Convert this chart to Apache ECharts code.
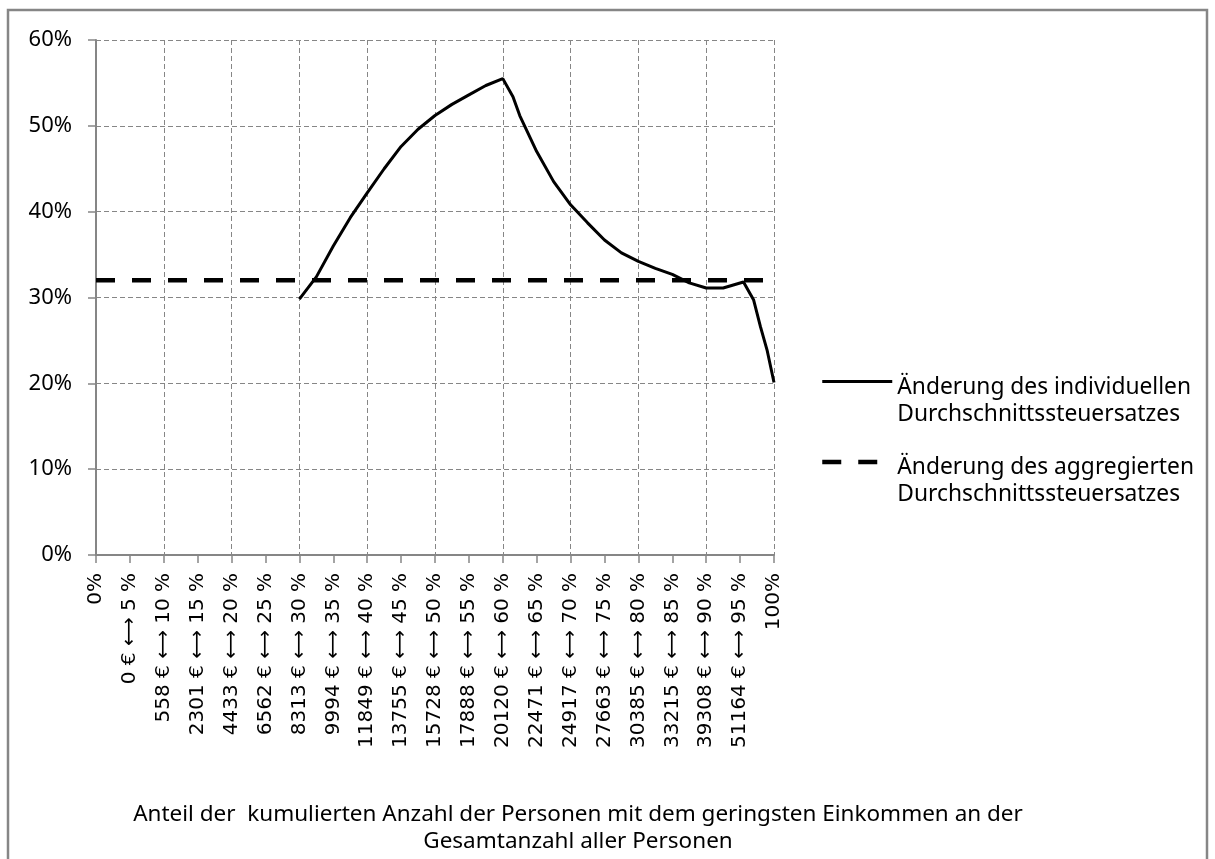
<!DOCTYPE html>
<html>
<head>
<meta charset="utf-8">
<title>Änderung des Durchschnittssteuersatzes</title>
<script src="https://cdn.jsdelivr.net/npm/echarts@6/dist/echarts.min.js"></script>
<style>
    html, body { margin: 0; padding: 0; background: #fff; }
    #chart { width: 1215px; height: 859px; }
</style>
</head>
<body>
<div id="chart"></div>
<script>
// Achsenbeschriftung (alle 5 %)
const tickLabels = [
    '0%', '0 € ⟷ 5 %', '558 € ⟷ 10 %', '2301 € ⟷ 15 %', '4433 € ⟷ 20 %',
    '6562 € ⟷ 25 %', '8313 € ⟷ 30 %', '9994 € ⟷ 35 %', '11849 € ⟷ 40 %',
    '13755 € ⟷ 45 %', '15728 € ⟷ 50 %', '17888 € ⟷ 55 %', '20120 € ⟷ 60 %',
    '22471 € ⟷ 65 %', '24917 € ⟷ 70 %', '27663 € ⟷ 75 %', '30385 € ⟷ 80 %',
    '33215 € ⟷ 85 %', '39308 € ⟷ 90 %', '51164 € ⟷ 95 %', '100%'
];

// individueller Durchschnittssteuersatz (Änderung in %)
const xPct = [30, 32.5, 35, 37.5, 40, 42.5, 45, 47.5, 50, 52.5, 55, 57.5, 60,
    61.5, 62.5, 65, 67.5, 70, 72.5, 75, 77.5, 80, 82.5, 85, 87.5, 90, 92.5,
    95.5, 97, 98, 99, 100];
const individual = [29.8, 32.4, 36.0, 39.3, 42.2, 45.0, 47.6, 49.6, 51.2, 52.5, 53.6, 54.7, 55.5,
    53.4, 51.2, 47.0, 43.5, 40.8, 38.7, 36.7, 35.2, 34.2, 33.4, 32.7, 31.7, 31.1, 31.1,
    31.8, 29.7, 26.6, 23.8, 20.1];

// aggregierter Durchschnittssteuersatz
const aggX = [0, 100];
const aggregated = [32, 32];

const seriesNames = [
    'Änderung des individuellen\nDurchschnittssteuersatzes',
    'Änderung des aggregierten\nDurchschnittssteuersatzes'
];

const FONT = '"Noto Sans", "DejaVu Sans", sans-serif';
const TICK_FONT = '"DejaVu Sans", "Noto Sans", sans-serif';
const GRAY = '#868686';

const chart = echarts.init(document.getElementById('chart'));

chart.setOption({
    backgroundColor: '#fff',
    animation: false,
    textStyle: { fontFamily: FONT, color: '#000' },
    grid: { left: 96, right: 441, top: 40, bottom: 304 },
    legend: {
        orient: 'vertical',
        left: 820,
        top: 349.5,
        padding: 0,
        itemWidth: 70,
        itemHeight: 14,
        itemGap: 4,
        itemStyle: { opacity: 0 },
        // leere erste Zeile, damit das Symbol auf Höhe der ersten Textzeile steht
        formatter: name => '{pad| }\n' + name.split('\n').map(s => '{t|' + s + '}').join('\n'),
        textStyle: {
            fontFamily: FONT,
            fontSize: 22.8,
            color: '#000',
            rich: {
                pad: { fontSize: 10, lineHeight: 39 },
                t: { fontFamily: FONT, fontSize: 22.8, lineHeight: 27, color: '#000' }
            }
        },
        data: [
            { name: seriesNames[0], lineStyle: { width: 3 } },
            { name: seriesNames[1], lineStyle: { width: 4.5 } }
        ]
    },
    xAxis: {
        type: 'value',
        min: 0,
        max: 100,
        interval: 5,
        axisLine: { lineStyle: { color: GRAY, width: 2 } },
        axisTick: { show: true, length: 8, lineStyle: { color: GRAY, width: 1.5 } },
        axisLabel: {
            rotate: 90,
            margin: 18,
            fontFamily: TICK_FONT,
            fontSize: 20,
            color: '#000',
            formatter: v => tickLabels[Math.round(v / 5)]
        },
        // nur jede zweite Gitterlinie (alle 10 %)
        splitLine: {
            show: true,
            lineStyle: { color: [GRAY, 'rgba(0,0,0,0)'], type: [5, 3], width: 1 }
        }
    },
    yAxis: {
        type: 'value',
        min: 0,
        max: 60,
        interval: 10,
        axisLine: { show: true, lineStyle: { color: GRAY, width: 2 } },
        axisTick: { show: true, length: 8, lineStyle: { color: GRAY, width: 1.5 } },
        axisLabel: {
            margin: 24,
            fontFamily: FONT,
            fontSize: 22,
            color: '#000',
            formatter: '{value}%'
        },
        splitLine: { show: true, lineStyle: { color: GRAY, type: [5, 3], width: 1 } }
    },
    series: [
        {
            name: seriesNames[0],
            type: 'line',
            data: xPct.map((x, i) => [x, individual[i]]),
            symbol: 'none',
            lineStyle: { color: '#000', width: 3 },
            itemStyle: { color: '#000' },
            z: 3
        },
        {
            name: seriesNames[1],
            type: 'line',
            data: aggX.map((x, i) => [x, aggregated[i]]),
            symbol: 'none',
            lineStyle: { color: '#000', width: 4.5, type: [19, 17] },
            itemStyle: { color: '#000' },
            z: 2
        }
    ],
    graphic: [
        {
            type: 'rect',
            shape: { x: 8, y: 10, width: 1199, height: 880 },
            style: { fill: 'none', stroke: GRAY, lineWidth: 2.5 },
            silent: true
        },
        {
            type: 'text',
            x: 578,
            y: 801,
            style: {
                text: 'Anteil der  kumulierten Anzahl der Personen mit dem geringsten Einkommen an der\nGesamtanzahl aller Personen',
                font: '22.5px ' + FONT,
                fill: '#000',
                align: 'center',
                verticalAlign: 'top',
                lineHeight: 27
            }
        }
    ]
});
</script>
</body>
</html>
